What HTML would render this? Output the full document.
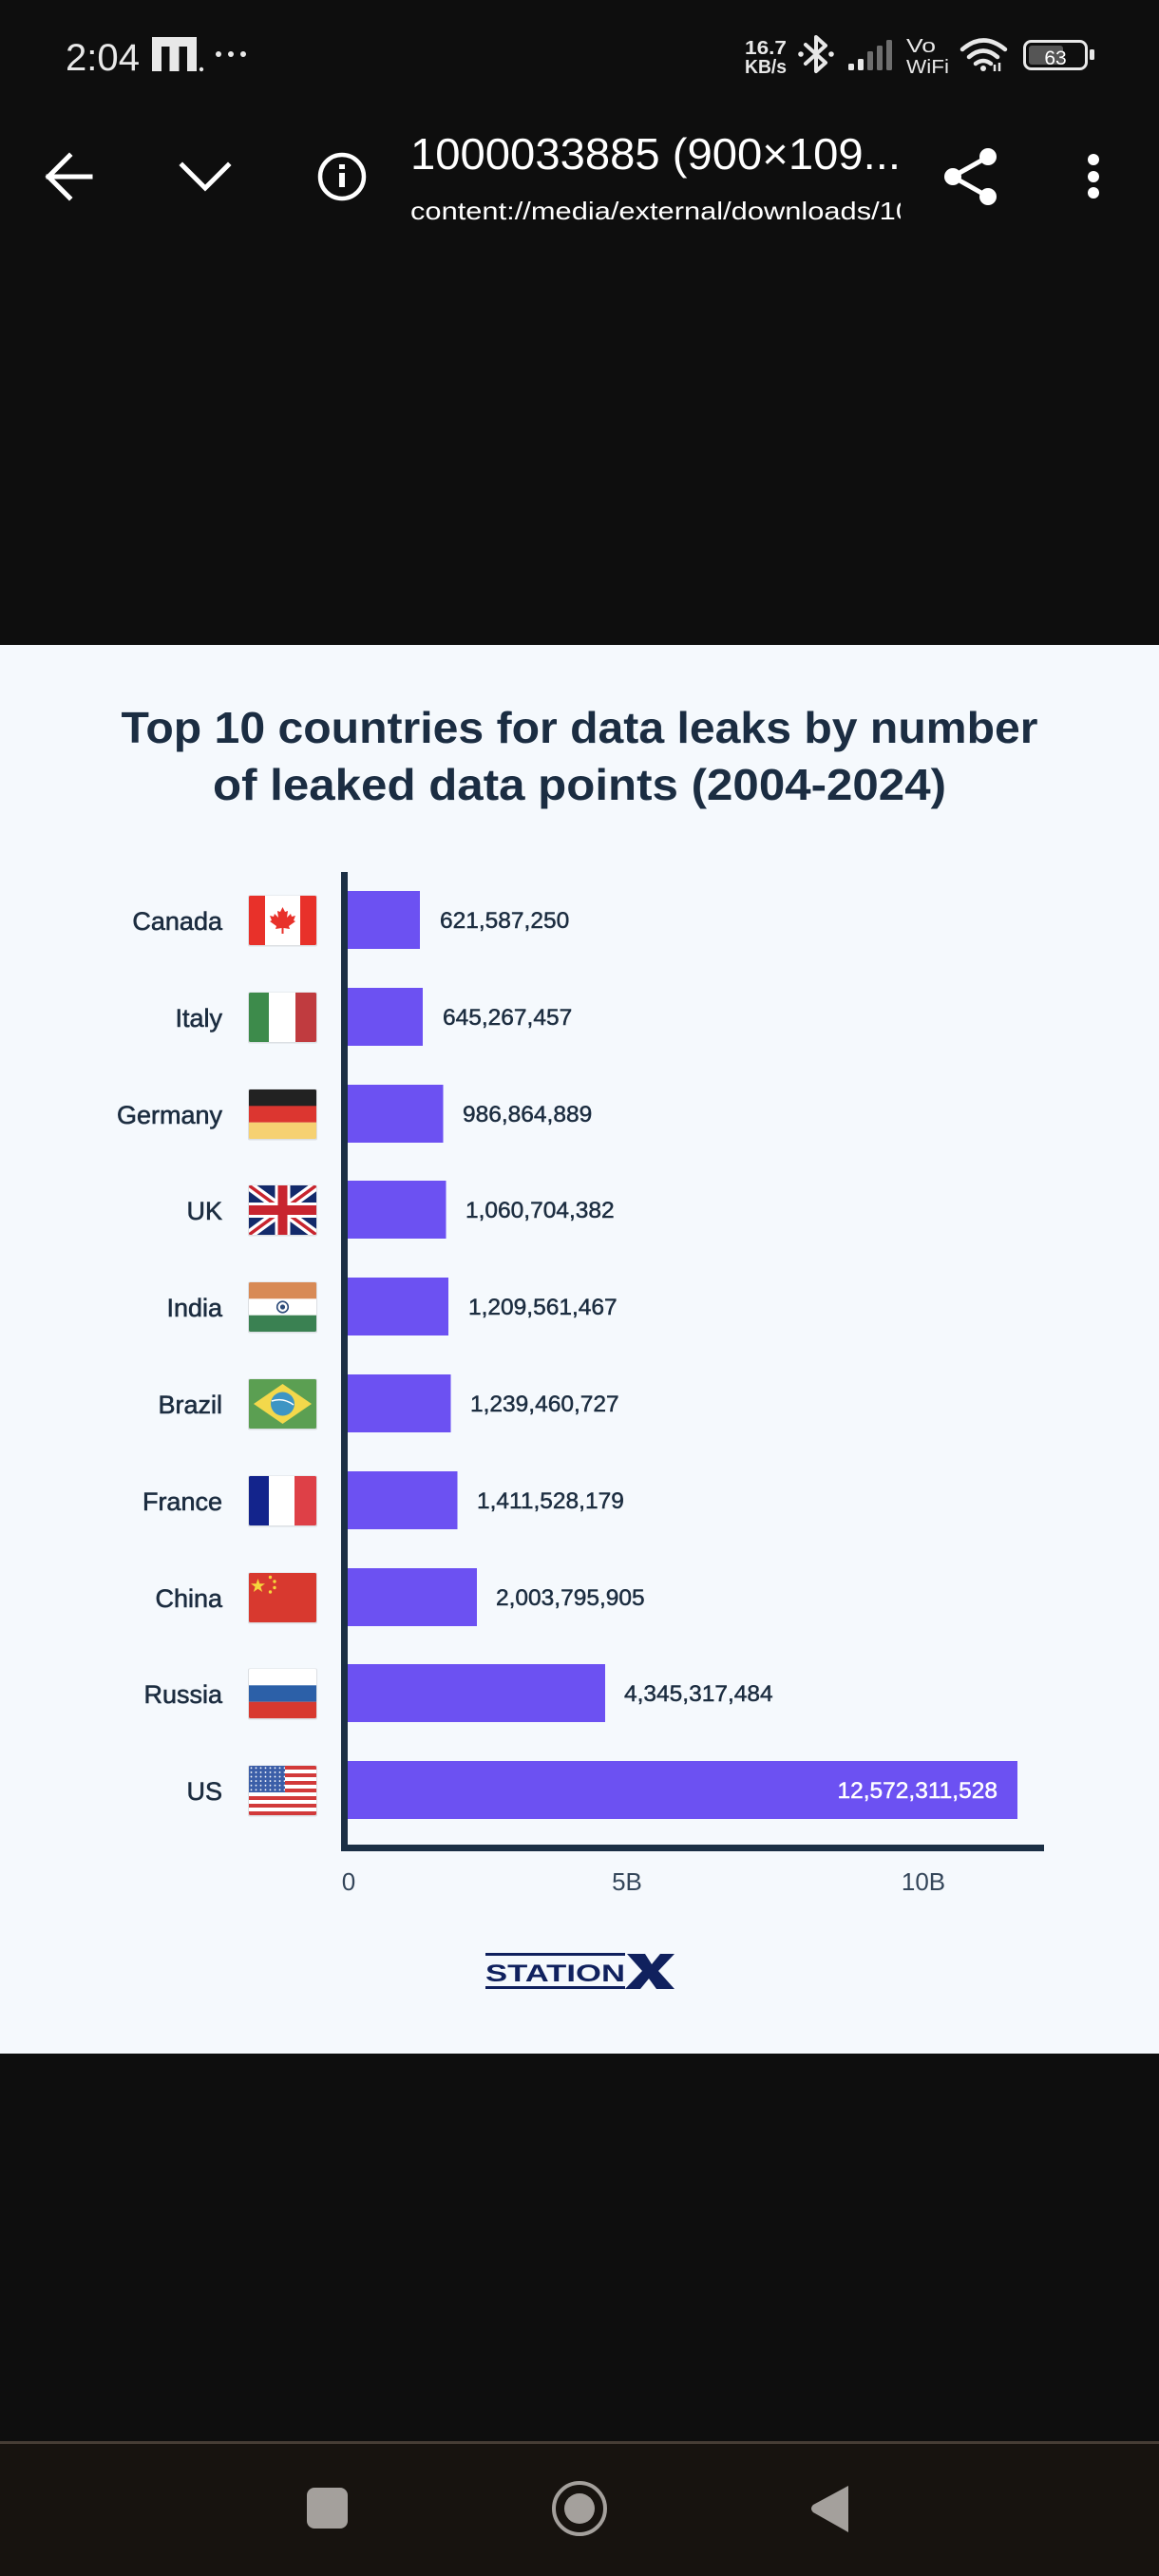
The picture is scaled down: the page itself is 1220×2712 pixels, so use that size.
<!DOCTYPE html>
<html>
<head>
<meta charset="utf-8">
<style>
  html,body{margin:0;padding:0;background:#0e0e0e;}
  svg{display:block;}
  text{font-family:"Liberation Sans",sans-serif;}
</style>
</head>
<body>
<svg width="1220" height="2712" viewBox="0 0 1220 2712" xmlns="http://www.w3.org/2000/svg">
  <defs>
    <clipPath id="flagclip"><rect x="0" y="0" width="71" height="52" rx="1.5"/></clipPath>
    <clipPath id="subclip"><rect x="420" y="190" width="528" height="60"/></clipPath>
    <pattern id="stars" x="0" y="0" width="5" height="4.6" patternUnits="userSpaceOnUse">
      <circle cx="2.5" cy="2.3" r="0.9" fill="#ffffff"/>
    </pattern>
    <g id="shadow"><rect x="-1" y="-0.5" width="73" height="54" rx="2" fill="#000" opacity="0.10"/></g>
  </defs>

  <!-- backgrounds -->
  <rect x="0" y="0" width="1220" height="2712" fill="#0e0e0e"/>
  <rect x="0" y="679" width="1220" height="1483" fill="#f5f9fd"/>
  <rect x="0" y="2570" width="1220" height="3" fill="#463d35"/>
  <rect x="0" y="2573" width="1220" height="139" fill="#17130f"/>

  <!-- status bar -->
  <text x="69" y="74" font-size="40" fill="#e8e8e8" textLength="78" lengthAdjust="spacingAndGlyphs">2:04</text>
  <g fill="#e8e8e8">
    <path d="M160,39 H207 V75 H197 V49 H188.5 V75 H178.5 V49 H170 V75 H160 Z"/>
    <circle cx="212" cy="73" r="2.2"/>
    <circle cx="230" cy="57" r="3"/>
    <circle cx="243" cy="57" r="3"/>
    <circle cx="256" cy="57" r="3"/>
  </g>
  <text x="784" y="57" font-size="20" font-weight="bold" fill="#e8e8e8" textLength="44" lengthAdjust="spacingAndGlyphs">16.7</text>
  <text x="784" y="77" font-size="20" font-weight="bold" fill="#e8e8e8" textLength="44" lengthAdjust="spacingAndGlyphs">KB/s</text>
  <!-- bluetooth -->
  <g stroke="#e8e8e8" stroke-width="4" fill="none" stroke-linejoin="round" stroke-linecap="round">
    <path d="M848,47 L869,66 L859,75 L859,39 L869,48 L848,67"/>
  </g>
  <circle cx="843" cy="57" r="2.8" fill="#e8e8e8"/>
  <circle cx="875" cy="57" r="2.8" fill="#e8e8e8"/>
  <!-- signal -->
  <rect x="893" y="67" width="6" height="7" rx="1.5" fill="#e8e8e8"/>
  <rect x="903" y="62" width="6" height="12" rx="1.5" fill="#e8e8e8"/>
  <rect x="913" y="54" width="6" height="20" rx="1.5" fill="#6e6e6e"/>
  <rect x="923" y="48" width="6" height="26" rx="1.5" fill="#6e6e6e"/>
  <rect x="933" y="42" width="6" height="32" rx="1.5" fill="#6e6e6e"/>
  <text x="954" y="55" font-size="20" fill="#e8e8e8" textLength="31" lengthAdjust="spacingAndGlyphs">Vo</text>
  <text x="954" y="77" font-size="20" fill="#e8e8e8" textLength="45" lengthAdjust="spacingAndGlyphs">WiFi</text>
  <!-- wifi -->
  <g fill="none" stroke="#e8e8e8" stroke-width="4.5" stroke-linecap="round">
    <path d="M1013,52 Q1035,33 1058,52"/>
    <path d="M1020,60 Q1035,47 1050,60"/>
    <path d="M1027,67 Q1035,61 1043,67"/>
  </g>
  <circle cx="1035" cy="72" r="3" fill="#e8e8e8"/>
  <path d="M1047,75 V68 M1052,75 V66" stroke="#e8e8e8" stroke-width="2.5"/>
  <!-- battery -->
  <rect x="1078.5" y="43.5" width="65" height="29" rx="7" fill="none" stroke="#e8e8e8" stroke-width="3"/>
  <rect x="1083" y="48" width="36" height="20" rx="3" fill="#555555"/>
  <rect x="1147" y="52" width="5" height="11" rx="1.5" fill="#e8e8e8"/>
  <text x="1111" y="68" font-size="21" fill="#ffffff" text-anchor="middle">63</text>

  <!-- top app bar -->
  <g stroke="#ffffff" stroke-width="5" fill="none" stroke-linecap="square">
    <path d="M51,186 H95"/>
    <path d="M73,164 L51,186 L73,208"/>
    <path d="M192,174 L216,198 L240,174"/>
    <circle cx="360" cy="186" r="23" stroke-width="4.5"/>
  </g>
  <rect x="357" y="173" width="6" height="5" fill="#ffffff"/>
  <rect x="357" y="182" width="6" height="15" fill="#ffffff"/>
  <text x="432" y="178" font-size="46" fill="#ffffff" textLength="516" lengthAdjust="spacingAndGlyphs">1000033885 (900×109...</text>
  <g clip-path="url(#subclip)">
    <text x="432" y="231" font-size="26" fill="#ffffff" textLength="528" lengthAdjust="spacingAndGlyphs">content://media/external/downloads/10</text>
  </g>
  <!-- share -->
  <g fill="#ffffff">
    <circle cx="1040" cy="165" r="9"/>
    <circle cx="1003" cy="186" r="9"/>
    <circle cx="1040" cy="207" r="9"/>
  </g>
  <path d="M1040,165 L1003,186 L1040,207" stroke="#ffffff" stroke-width="5" fill="none"/>
  <!-- kebab -->
  <g fill="#ffffff">
    <circle cx="1151" cy="168" r="6"/>
    <circle cx="1151" cy="186" r="6"/>
    <circle cx="1151" cy="203" r="6"/>
  </g>

  <!-- chart title -->
  <text x="610" y="782" font-size="46" font-weight="bold" fill="#1b2d42" text-anchor="middle" textLength="965" lengthAdjust="spacingAndGlyphs">Top 10 countries for data leaks by number</text>
  <text x="610" y="842" font-size="46" font-weight="bold" fill="#1b2d42" text-anchor="middle" textLength="772" lengthAdjust="spacingAndGlyphs">of leaked data points (2004-2024)</text>

  <!-- bars -->
  <g fill="#6c51f2">
    <rect x="366" y="938" width="76" height="61"/>
    <rect x="366" y="1040" width="79" height="61"/>
    <rect x="366" y="1142" width="100.5" height="61"/>
    <rect x="366" y="1243" width="103.5" height="61"/>
    <rect x="366" y="1345" width="106" height="61"/>
    <rect x="366" y="1447" width="108.5" height="61"/>
    <rect x="366" y="1549" width="115.5" height="61"/>
    <rect x="366" y="1651" width="136" height="61"/>
    <rect x="366" y="1752" width="271" height="61"/>
    <rect x="366" y="1854" width="705" height="61"/>
  </g>

  <!-- axes -->
  <rect x="359" y="918" width="7" height="1031" fill="#1b2f45"/>
  <rect x="359" y="1942" width="740" height="7" fill="#1b2f45"/>

  <!-- country labels -->
  <g font-size="27" fill="#1c2d40" stroke="#1c2d40" stroke-width="0.6" text-anchor="end">
    <text x="234" y="979">Canada</text>
    <text x="234" y="1081">Italy</text>
    <text x="234" y="1183">Germany</text>
    <text x="234" y="1284">UK</text>
    <text x="234" y="1386">India</text>
    <text x="234" y="1488">Brazil</text>
    <text x="234" y="1590">France</text>
    <text x="234" y="1692">China</text>
    <text x="234" y="1793">Russia</text>
    <text x="234" y="1895">US</text>
  </g>

  <!-- value labels -->
  <g font-size="24.5" fill="#1c2d40" stroke="#1c2d40" stroke-width="0.5">
    <text x="463" y="977">621,587,250</text>
    <text x="466" y="1079">645,267,457</text>
    <text x="487" y="1181">986,864,889</text>
    <text x="490" y="1282">1,060,704,382</text>
    <text x="493" y="1384">1,209,561,467</text>
    <text x="495" y="1486">1,239,460,727</text>
    <text x="502" y="1588">1,411,528,179</text>
    <text x="522" y="1690">2,003,795,905</text>
    <text x="657" y="1791">4,345,317,484</text>
  </g>
  <text x="1050" y="1893" font-size="24.5" fill="#ffffff" stroke="#ffffff" stroke-width="0.5" text-anchor="end">12,572,311,528</text>

  <!-- tick labels -->
  <g font-size="26" fill="#34465a" text-anchor="middle">
    <text x="367" y="1990">0</text>
    <text x="660" y="1990">5B</text>
    <text x="972" y="1990">10B</text>
  </g>

  <!-- flags -->
  <!-- Canada -->
  <g transform="translate(262,943)">
    <use href="#shadow"/>
    <g clip-path="url(#flagclip)">
      <rect width="71" height="52" fill="#ffffff"/>
      <rect width="17" height="52" fill="#e8312a"/>
      <rect x="54" width="17" height="52" fill="#e8312a"/>
      <path d="M35.5,12 L38,17 L41,16 L40,23 L44,19 L45,22 L49,21 L47,26 L49,27 L42,32 L43,35 L36.5,34 L36.5,40 L34.5,40 L34.5,34 L28,35 L29,32 L22,27 L24,26 L22,21 L26,22 L27,19 L31,23 L30,16 L33,17 Z" fill="#e8312a"/>
    </g>
  </g>
  <!-- Italy -->
  <g transform="translate(262,1045)">
    <use href="#shadow"/>
    <g clip-path="url(#flagclip)">
      <rect width="71" height="52" fill="#ffffff"/>
      <rect width="21" height="52" fill="#3d8b4b"/>
      <rect x="49" width="22" height="52" fill="#c03b3f"/>
    </g>
  </g>
  <!-- Germany -->
  <g transform="translate(262,1147)">
    <use href="#shadow"/>
    <g clip-path="url(#flagclip)">
      <rect width="71" height="18" fill="#222222"/>
      <rect y="17.3" width="71" height="17.4" fill="#dc3630"/>
      <rect y="34.7" width="71" height="17.3" fill="#f6d172"/>
    </g>
  </g>
  <!-- UK -->
  <g transform="translate(262,1248)">
    <use href="#shadow"/>
    <g clip-path="url(#flagclip)">
      <rect width="71" height="52" fill="#132a6b"/>
      <path d="M0,0 L71,52 M0,52 L71,0" stroke="#ffffff" stroke-width="10"/>
      <path d="M0,0 L71,52 M0,52 L71,0" stroke="#c8252f" stroke-width="3.5"/>
      <rect x="0" y="18" width="71" height="16" fill="#ffffff"/>
      <rect x="27.5" y="0" width="16" height="52" fill="#ffffff"/>
      <rect x="0" y="21" width="71" height="10" fill="#c8252f"/>
      <rect x="30.5" y="0" width="10" height="52" fill="#c8252f"/>
    </g>
  </g>
  <!-- India -->
  <g transform="translate(262,1350)">
    <use href="#shadow"/>
    <g clip-path="url(#flagclip)">
      <rect width="71" height="52" fill="#ffffff"/>
      <rect width="71" height="17.3" fill="#d88a55"/>
      <rect y="34.7" width="71" height="17.3" fill="#3a8152"/>
      <circle cx="35.5" cy="26" r="5.8" fill="none" stroke="#2c4a78" stroke-width="1.6"/>
      <circle cx="35.5" cy="26" r="2.6" fill="#2c4a78"/>
    </g>
  </g>
  <!-- Brazil -->
  <g transform="translate(262,1452)">
    <use href="#shadow"/>
    <g clip-path="url(#flagclip)">
      <rect width="71" height="52" fill="#5b9f52"/>
      <path d="M5,26 L35.5,5 L66,26 L35.5,47 Z" fill="#f3d84b"/>
      <circle cx="35.5" cy="26" r="12.5" fill="#3d95c4"/>
      <path d="M24,23 Q36,19 47,27" stroke="#ffffff" stroke-width="1.5" fill="none"/>
    </g>
  </g>
  <!-- France -->
  <g transform="translate(262,1554)">
    <use href="#shadow"/>
    <g clip-path="url(#flagclip)">
      <rect width="71" height="52" fill="#ffffff"/>
      <rect width="21" height="52" fill="#13248c"/>
      <rect x="48" width="23" height="52" fill="#de4047"/>
    </g>
  </g>
  <!-- China -->
  <g transform="translate(262,1656)">
    <use href="#shadow"/>
    <g clip-path="url(#flagclip)">
      <rect width="71" height="52" fill="#d8392f"/>
      <path d="M9.5,6 L11.3,11.3 L17,11.3 L12.4,14.6 L14.2,20 L9.5,16.7 L4.8,20 L6.6,14.6 L2,11.3 L7.7,11.3 Z" fill="#f5d53c"/>
      <circle cx="22.5" cy="4.5" r="1.7" fill="#f5d53c"/>
      <circle cx="27" cy="9" r="1.7" fill="#f5d53c"/>
      <circle cx="27" cy="15.5" r="1.7" fill="#f5d53c"/>
      <circle cx="22.5" cy="20" r="1.7" fill="#f5d53c"/>
    </g>
  </g>
  <!-- Russia -->
  <g transform="translate(262,1757)">
    <use href="#shadow"/>
    <g clip-path="url(#flagclip)">
      <rect width="71" height="52" fill="#ffffff"/>
      <rect y="17.3" width="71" height="17.4" fill="#2c60a8"/>
      <rect y="34.7" width="71" height="17.3" fill="#d8392f"/>
    </g>
  </g>
  <!-- US -->
  <g transform="translate(262,1859)">
    <use href="#shadow"/>
    <g clip-path="url(#flagclip)">
      <rect width="71" height="52" fill="#ffffff"/>
      <g fill="#d23a3a">
        <rect y="0" width="71" height="4"/>
        <rect y="8" width="71" height="4"/>
        <rect y="16" width="71" height="4"/>
        <rect y="24" width="71" height="4"/>
        <rect y="32" width="71" height="4"/>
        <rect y="40" width="71" height="4"/>
        <rect y="48" width="71" height="4"/>
      </g>
      <rect width="38" height="28" fill="#3b5ea8"/>
      <rect width="38" height="28" fill="url(#stars)"/>
    </g>
  </g>

  <!-- StationX logo -->
  <rect x="511" y="2056" width="147" height="3" fill="#10215e"/>
  <rect x="511" y="2091" width="147" height="3" fill="#10215e"/>
  <text x="511" y="2086" font-size="25" font-weight="bold" fill="#10215e" textLength="147" lengthAdjust="spacingAndGlyphs">STATION</text>
  <path d="M660,2057 H679 L686,2068 L695,2057 H710 L693,2075 L710,2094 H691 L683,2083 L674,2094 H658 L676,2075 Z" fill="#10215e"/>

  <!-- navigation bar -->
  <rect x="323" y="2619" width="43" height="43" rx="8" fill="#a4a09c"/>
  <circle cx="610" cy="2641" r="27" fill="none" stroke="#a4a09c" stroke-width="4"/>
  <circle cx="610" cy="2641" r="16" fill="#a4a09c"/>
  <path d="M893,2617 L893,2666 L856,2645 Q852,2641 856,2637 Z" fill="#a4a09c"/>
</svg>
</body>
</html>
